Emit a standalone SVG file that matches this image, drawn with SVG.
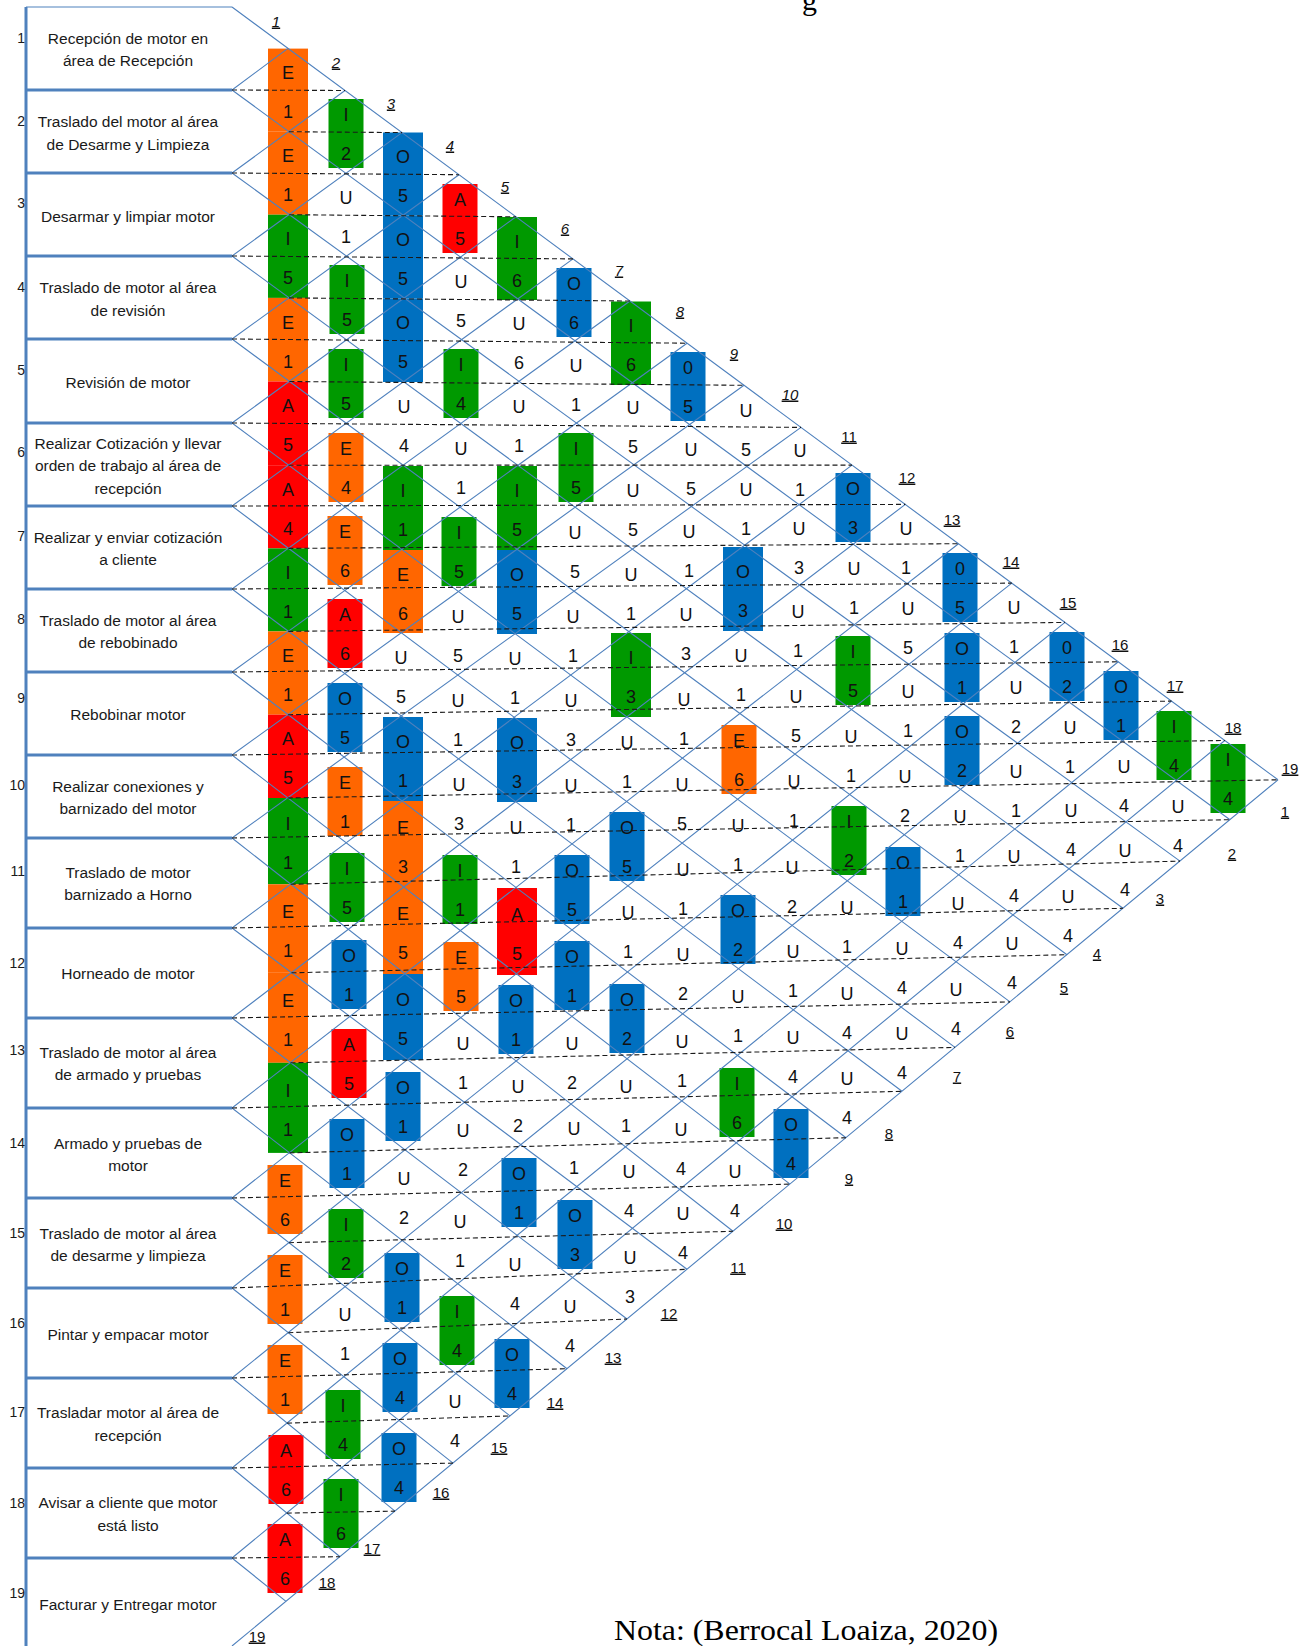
<svg xmlns="http://www.w3.org/2000/svg" width="1304" height="1646" viewBox="0 0 1304 1646">
<style>
.bg{fill:#ffffff}
.sep{stroke:#4F81BD;stroke-width:3;fill:none}
.thin{stroke:#4F81BD;stroke-width:1.2;fill:none}
.grid{stroke:#4F81BD;stroke-width:1.1;fill:none}
.dash{stroke:#1a1a1a;stroke-width:1.1;stroke-dasharray:5 3;fill:none}
.lbl{font-family:"Liberation Sans",Arial,sans-serif;font-size:15.5px;fill:#1a1a1a;text-anchor:middle}
.rn{font-family:"Liberation Sans",Arial,sans-serif;font-size:14px;fill:#1a1a1a;text-anchor:end}
.c text{font-family:"Liberation Sans",Arial,sans-serif;font-size:18px;fill:#111;text-anchor:middle}
.idx{font-family:"Liberation Sans",Arial,sans-serif;font-size:15px;fill:#111;text-anchor:middle;text-decoration:underline}
.it{font-style:italic}
.E{fill:#FF6600}.I{fill:#009900}.O{fill:#0070C0}.A{fill:#FF0000}
.nota{font-family:"Liberation Serif","Times New Roman",serif;font-size:30px;fill:#000}
</style>
<rect class="bg" x="0" y="0" width="1304" height="1646"/>

<!-- remnant of the title line at the top edge -->
<text class="nota" x="802" y="10" font-size="22">g</text>

<!-- activity column frame -->
<g id="frame">
<path class="sep" d="M26,7V1646"/>
<path class="thin" d="M26,7H232"/>
<path class="sep" d="M26,90H232M26,173H232M26,256H232M26,339H232M26,423H232M26,506H232M26,589H232M26,672H232M26,755H232M26,838H232M26,928H232M26,1018H232M26,1108H232M26,1198H232M26,1288H232M26,1378H232M26,1468H232M26,1558H232"/>
</g>

<!-- activities -->
<g id="act-1"><text class="rn" x="25" y="43">1</text><text class="lbl" x="128" y="43.5">Recepción de motor en</text><text class="lbl" x="128" y="65.5">área de Recepción</text></g>
<g id="act-2"><text class="rn" x="25" y="126">2</text><text class="lbl" x="128" y="126.5">Traslado del motor al área</text><text class="lbl" x="128" y="149.5">de Desarme y Limpieza</text></g>
<g id="act-3"><text class="rn" x="25" y="208">3</text><text class="lbl" x="128" y="221.5">Desarmar y limpiar motor</text></g>
<g id="act-4"><text class="rn" x="25" y="292">4</text><text class="lbl" x="128" y="292.5">Traslado de motor al área</text><text class="lbl" x="128" y="315.5">de revisión</text></g>
<g id="act-5"><text class="rn" x="25" y="375">5</text><text class="lbl" x="128" y="387.5">Revisión de motor</text></g>
<g id="act-6"><text class="rn" x="25" y="457">6</text><text class="lbl" x="128" y="448.5">Realizar Cotización y llevar</text><text class="lbl" x="128" y="470.5">orden de trabajo al área de</text><text class="lbl" x="128" y="493.5">recepción</text></g>
<g id="act-7"><text class="rn" x="25" y="541">7</text><text class="lbl" x="128" y="542.5">Realizar y enviar cotización</text><text class="lbl" x="128" y="564.5">a cliente</text></g>
<g id="act-8"><text class="rn" x="25" y="624">8</text><text class="lbl" x="128" y="625.5">Traslado de motor al área</text><text class="lbl" x="128" y="647.5">de rebobinado</text></g>
<g id="act-9"><text class="rn" x="25" y="703">9</text><text class="lbl" x="128" y="719.5">Rebobinar motor</text></g>
<g id="act-10"><text class="rn" x="25" y="790">10</text><text class="lbl" x="128" y="791.5">Realizar conexiones y</text><text class="lbl" x="128" y="813.5">barnizado del motor</text></g>
<g id="act-11"><text class="rn" x="25" y="876">11</text><text class="lbl" x="128" y="877.5">Traslado de motor</text><text class="lbl" x="128" y="899.5">barnizado a Horno</text></g>
<g id="act-12"><text class="rn" x="25" y="968">12</text><text class="lbl" x="128" y="978.5">Horneado de motor</text></g>
<g id="act-13"><text class="rn" x="25" y="1055">13</text><text class="lbl" x="128" y="1057.5">Traslado de motor al área</text><text class="lbl" x="128" y="1079.5">de armado y pruebas</text></g>
<g id="act-14"><text class="rn" x="25" y="1148">14</text><text class="lbl" x="128" y="1148.5">Armado y pruebas de</text><text class="lbl" x="128" y="1170.5">motor</text></g>
<g id="act-15"><text class="rn" x="25" y="1238">15</text><text class="lbl" x="128" y="1238.5">Traslado de motor al área</text><text class="lbl" x="128" y="1260.5">de desarme y limpieza</text></g>
<g id="act-16"><text class="rn" x="25" y="1328">16</text><text class="lbl" x="128" y="1339.5">Pintar y empacar motor</text></g>
<g id="act-17"><text class="rn" x="25" y="1417">17</text><text class="lbl" x="128" y="1417.5">Trasladar motor al área de</text><text class="lbl" x="128" y="1440.5">recepción</text></g>
<g id="act-18"><text class="rn" x="25" y="1508">18</text><text class="lbl" x="128" y="1507.5">Avisar a cliente que motor</text><text class="lbl" x="128" y="1530.5">está listo</text></g>
<g id="act-19"><text class="rn" x="25" y="1598">19</text><text class="lbl" x="128" y="1609.5">Facturar y Entregar motor</text></g>

<!-- relationship cells: letter above, reason code below -->
<g id="cells" class="c">
<g id="r1-2"><rect class="E" x="268" y="48.6" width="40" height="83.1"/><text x="288" y="79">E</text><text x="288" y="118">1</text></g>
<g id="r2-3"><rect class="E" x="268" y="131.7" width="40" height="83"/><text x="288" y="162">E</text><text x="288" y="201">1</text></g>
<g id="r3-4"><rect class="I" x="268" y="214.7" width="40" height="83.2"/><text x="288" y="245">I</text><text x="288" y="284">5</text></g>
<g id="r4-5"><rect class="E" x="268" y="297.9" width="40" height="83.6"/><text x="288" y="329">E</text><text x="288" y="368">1</text></g>
<g id="r5-6"><rect class="A" x="268" y="381.5" width="40" height="83.7"/><text x="288" y="412">A</text><text x="288" y="451">5</text></g>
<g id="r6-7"><rect class="A" x="268" y="465.2" width="40" height="83.2"/><text x="288" y="496">A</text><text x="288" y="535">4</text></g>
<g id="r7-8"><rect class="I" x="268" y="548.4" width="40" height="83"/><text x="288" y="579">I</text><text x="288" y="618">1</text></g>
<g id="r8-9"><rect class="E" x="268" y="631.4" width="40" height="83.3"/><text x="288" y="662">E</text><text x="288" y="701">1</text></g>
<g id="r9-10"><rect class="A" x="268" y="714.7" width="40" height="83.3"/><text x="288" y="745">A</text><text x="288" y="784">5</text></g>
<g id="r10-11"><rect class="I" x="268" y="798" width="40" height="86.3"/><text x="288" y="830">I</text><text x="288" y="869">1</text></g>
<g id="r11-12"><rect class="E" x="268" y="884.3" width="40" height="88.5"/><text x="288" y="918">E</text><text x="288" y="957">1</text></g>
<g id="r12-13"><rect class="E" x="268" y="972.8" width="40" height="90"/><text x="288" y="1007">E</text><text x="288" y="1046">1</text></g>
<g id="r13-14"><rect class="I" x="268" y="1062.8" width="40" height="90.1"/><text x="288" y="1097">I</text><text x="288" y="1136">1</text></g>
<g id="r14-15"><rect class="E" x="267.5" y="1165" width="35" height="69"/><text x="285" y="1187">E</text><text x="285" y="1226">6</text></g>
<g id="r15-16"><rect class="E" x="267.5" y="1255" width="35" height="69"/><text x="285" y="1277">E</text><text x="285" y="1316">1</text></g>
<g id="r16-17"><rect class="E" x="267.5" y="1345" width="35" height="69"/><text x="285" y="1367">E</text><text x="285" y="1406">1</text></g>
<g id="r17-18"><rect class="A" x="268.5" y="1435" width="35" height="69"/><text x="286" y="1457">A</text><text x="286" y="1496">6</text></g>
<g id="r18-19"><rect class="A" x="267.5" y="1524" width="35" height="69"/><text x="285" y="1546">A</text><text x="285" y="1585">6</text></g>

<g id="r1-3"><rect class="I" x="328.5" y="99" width="35" height="69"/><text x="346" y="121">I</text><text x="346" y="160">2</text></g>
<g id="r2-4"><text x="346" y="204">U</text><text x="346" y="243">1</text></g>
<g id="r3-5"><rect class="I" x="329.5" y="265" width="35" height="69"/><text x="347" y="287">I</text><text x="347" y="326">5</text></g>
<g id="r4-6"><rect class="I" x="328.5" y="349" width="35" height="69"/><text x="346" y="371">I</text><text x="346" y="410">5</text></g>
<g id="r5-7"><rect class="E" x="328.5" y="433" width="35" height="69"/><text x="346" y="455">E</text><text x="346" y="494">4</text></g>
<g id="r6-8"><rect class="E" x="327.5" y="516" width="35" height="69"/><text x="345" y="538">E</text><text x="345" y="577">6</text></g>
<g id="r7-9"><rect class="A" x="327.5" y="599" width="35" height="69"/><text x="345" y="621">A</text><text x="345" y="660">6</text></g>
<g id="r8-10"><rect class="O" x="327.5" y="683" width="35" height="69"/><text x="345" y="705">O</text><text x="345" y="744">5</text></g>
<g id="r9-11"><rect class="E" x="327.5" y="767" width="35" height="69"/><text x="345" y="789">E</text><text x="345" y="828">1</text></g>
<g id="r10-12"><rect class="I" x="329.5" y="853" width="35" height="69"/><text x="347" y="875">I</text><text x="347" y="914">5</text></g>
<g id="r11-13"><rect class="O" x="331.5" y="940" width="35" height="69"/><text x="349" y="962">O</text><text x="349" y="1001">1</text></g>
<g id="r12-14"><rect class="A" x="331.5" y="1029" width="35" height="69"/><text x="349" y="1051">A</text><text x="349" y="1090">5</text></g>
<g id="r13-15"><rect class="O" x="329.5" y="1119" width="35" height="69"/><text x="347" y="1141">O</text><text x="347" y="1180">1</text></g>
<g id="r14-16"><rect class="I" x="328.5" y="1209" width="35" height="69"/><text x="346" y="1231">I</text><text x="346" y="1270">2</text></g>
<g id="r15-17"><text x="345" y="1321">U</text><text x="345" y="1360">1</text></g>
<g id="r16-18"><rect class="I" x="325.5" y="1390" width="35" height="69"/><text x="343" y="1412">I</text><text x="343" y="1451">4</text></g>
<g id="r17-19"><rect class="I" x="323.5" y="1479" width="35" height="69"/><text x="341" y="1501">I</text><text x="341" y="1540">6</text></g>

<g id="r1-4"><rect class="O" x="383" y="132.5" width="40" height="83"/><text x="403" y="163">O</text><text x="403" y="202">5</text></g>
<g id="r2-5"><rect class="O" x="383" y="215.5" width="40" height="83"/><text x="403" y="246">O</text><text x="403" y="285">5</text></g>
<g id="r3-6"><rect class="O" x="383" y="298.5" width="40" height="83.5"/><text x="403" y="329">O</text><text x="403" y="368">5</text></g>
<g id="r4-7"><text x="404" y="413">U</text><text x="404" y="452">4</text></g>
<g id="r5-8"><rect class="I" x="383" y="466" width="40" height="84"/><text x="403" y="497">I</text><text x="403" y="536">1</text></g>
<g id="r6-9"><rect class="E" x="383" y="550" width="40" height="83"/><text x="403" y="581">E</text><text x="403" y="620">6</text></g>
<g id="r7-10"><text x="401" y="664">U</text><text x="401" y="703">5</text></g>
<g id="r8-11"><rect class="O" x="383" y="717" width="40" height="84"/><text x="403" y="748">O</text><text x="403" y="787">1</text></g>
<g id="r9-12"><rect class="E" x="383" y="801" width="40" height="87"/><text x="403" y="834">E</text><text x="403" y="873">3</text></g>
<g id="r10-13"><rect class="E" x="383" y="888" width="40" height="86"/><text x="403" y="920">E</text><text x="403" y="959">5</text></g>
<g id="r11-14"><rect class="O" x="383" y="974" width="40" height="86"/><text x="403" y="1006">O</text><text x="403" y="1045">5</text></g>
<g id="r12-15"><rect class="O" x="385.5" y="1072" width="35" height="69"/><text x="403" y="1094">O</text><text x="403" y="1133">1</text></g>
<g id="r13-16"><text x="404" y="1185">U</text><text x="404" y="1224">2</text></g>
<g id="r14-17"><rect class="O" x="384.5" y="1253" width="35" height="69"/><text x="402" y="1275">O</text><text x="402" y="1314">1</text></g>
<g id="r15-18"><rect class="O" x="382.5" y="1343" width="35" height="69"/><text x="400" y="1365">O</text><text x="400" y="1404">4</text></g>
<g id="r16-19"><rect class="O" x="381.5" y="1433" width="35" height="69"/><text x="399" y="1455">O</text><text x="399" y="1494">4</text></g>

<g id="r1-5"><rect class="A" x="442.5" y="184" width="35" height="69"/><text x="460" y="206">A</text><text x="460" y="245">5</text></g>
<g id="r2-6"><text x="461" y="288">U</text><text x="461" y="327">5</text></g>
<g id="r3-7"><rect class="I" x="443.5" y="349" width="35" height="69"/><text x="461" y="371">I</text><text x="461" y="410">4</text></g>
<g id="r4-8"><text x="461" y="455">U</text><text x="461" y="494">1</text></g>
<g id="r5-9"><rect class="I" x="441.5" y="517" width="35" height="69"/><text x="459" y="539">I</text><text x="459" y="578">5</text></g>
<g id="r6-10"><text x="458" y="623">U</text><text x="458" y="662">5</text></g>
<g id="r7-11"><text x="458" y="707">U</text><text x="458" y="746">1</text></g>
<g id="r8-12"><text x="459" y="791">U</text><text x="459" y="830">3</text></g>
<g id="r9-13"><rect class="I" x="442.5" y="855" width="35" height="69"/><text x="460" y="877">I</text><text x="460" y="916">1</text></g>
<g id="r10-14"><rect class="E" x="443.5" y="942" width="35" height="69"/><text x="461" y="964">E</text><text x="461" y="1003">5</text></g>
<g id="r11-15"><text x="463" y="1050">U</text><text x="463" y="1089">1</text></g>
<g id="r12-16"><text x="463" y="1137">U</text><text x="463" y="1176">2</text></g>
<g id="r13-17"><text x="460" y="1228">U</text><text x="460" y="1267">1</text></g>
<g id="r14-18"><rect class="I" x="439.5" y="1296" width="35" height="69"/><text x="457" y="1318">I</text><text x="457" y="1357">4</text></g>
<g id="r15-19"><text x="455" y="1408">U</text><text x="455" y="1447">4</text></g>

<g id="r1-6"><rect class="I" x="497" y="217" width="40" height="83"/><text x="517" y="248">I</text><text x="517" y="287">6</text></g>
<g id="r2-7"><text x="519" y="330">U</text><text x="519" y="369">6</text></g>
<g id="r3-8"><text x="519" y="413">U</text><text x="519" y="452">1</text></g>
<g id="r4-9"><rect class="I" x="497" y="466" width="40" height="84"/><text x="517" y="497">I</text><text x="517" y="536">5</text></g>
<g id="r5-10"><rect class="O" x="497" y="550" width="40" height="84"/><text x="517" y="581">O</text><text x="517" y="620">5</text></g>
<g id="r6-11"><text x="515" y="665">U</text><text x="515" y="704">1</text></g>
<g id="r7-12"><rect class="O" x="497" y="718" width="40" height="84"/><text x="517" y="749">O</text><text x="517" y="788">3</text></g>
<g id="r8-13"><text x="516" y="834">U</text><text x="516" y="873">1</text></g>
<g id="r9-14"><rect class="A" x="497" y="888" width="40" height="87"/><text x="517" y="921">A</text><text x="517" y="960">5</text></g>
<g id="r10-15"><rect class="O" x="498.5" y="985" width="35" height="69"/><text x="516" y="1007">O</text><text x="516" y="1046">1</text></g>
<g id="r11-16"><text x="518" y="1093">U</text><text x="518" y="1132">2</text></g>
<g id="r12-17"><rect class="O" x="501.5" y="1158" width="35" height="69"/><text x="519" y="1180">O</text><text x="519" y="1219">1</text></g>
<g id="r13-18"><text x="515" y="1271">U</text><text x="515" y="1310">4</text></g>
<g id="r14-19"><rect class="O" x="494.5" y="1339" width="35" height="69"/><text x="512" y="1361">O</text><text x="512" y="1400">4</text></g>

<g id="r1-7"><rect class="O" x="556.5" y="268" width="35" height="69"/><text x="574" y="290">O</text><text x="574" y="329">6</text></g>
<g id="r2-8"><text x="576" y="372">U</text><text x="576" y="411">1</text></g>
<g id="r3-9"><rect class="I" x="558.5" y="433" width="35" height="69"/><text x="576" y="455">I</text><text x="576" y="494">5</text></g>
<g id="r4-10"><text x="575" y="539">U</text><text x="575" y="578">5</text></g>
<g id="r5-11"><text x="573" y="623">U</text><text x="573" y="662">1</text></g>
<g id="r6-12"><text x="571" y="707">U</text><text x="571" y="746">3</text></g>
<g id="r7-13"><text x="571" y="792">U</text><text x="571" y="831">1</text></g>
<g id="r8-14"><rect class="O" x="554.5" y="855" width="35" height="69"/><text x="572" y="877">O</text><text x="572" y="916">5</text></g>
<g id="r9-15"><rect class="O" x="554.5" y="941" width="35" height="69"/><text x="572" y="963">O</text><text x="572" y="1002">1</text></g>
<g id="r10-16"><text x="572" y="1050">U</text><text x="572" y="1089">2</text></g>
<g id="r11-17"><text x="574" y="1135">U</text><text x="574" y="1174">1</text></g>
<g id="r12-18"><rect class="O" x="557.5" y="1200" width="35" height="69"/><text x="575" y="1222">O</text><text x="575" y="1261">3</text></g>
<g id="r13-19"><text x="570" y="1313">U</text><text x="570" y="1352">4</text></g>

<g id="r1-8"><rect class="I" x="611" y="301.5" width="40" height="83.5"/><text x="631" y="332">I</text><text x="631" y="371">6</text></g>
<g id="r2-9"><text x="633" y="414">U</text><text x="633" y="453">5</text></g>
<g id="r3-10"><text x="633" y="497">U</text><text x="633" y="536">5</text></g>
<g id="r4-11"><text x="631" y="581">U</text><text x="631" y="620">1</text></g>
<g id="r5-12"><rect class="I" x="611" y="633" width="40" height="84"/><text x="631" y="664">I</text><text x="631" y="703">3</text></g>
<g id="r6-13"><text x="627" y="749">U</text><text x="627" y="788">1</text></g>
<g id="r7-14"><rect class="O" x="609.5" y="812" width="35" height="69"/><text x="627" y="834">O</text><text x="627" y="873">5</text></g>
<g id="r8-15"><text x="628" y="919">U</text><text x="628" y="958">1</text></g>
<g id="r9-16"><rect class="O" x="609.5" y="984" width="35" height="69"/><text x="627" y="1006">O</text><text x="627" y="1045">2</text></g>
<g id="r10-17"><text x="626" y="1093">U</text><text x="626" y="1132">1</text></g>
<g id="r11-18"><text x="629" y="1178">U</text><text x="629" y="1217">4</text></g>
<g id="r12-19"><text x="630" y="1264">U</text><text x="630" y="1303">3</text></g>

<g id="r1-9"><rect class="O" x="670.5" y="352" width="35" height="69"/><text x="688" y="374">0</text><text x="688" y="413">5</text></g>
<g id="r2-10"><text x="691" y="456">U</text><text x="691" y="495">5</text></g>
<g id="r3-11"><text x="689" y="538">U</text><text x="689" y="577">1</text></g>
<g id="r4-12"><text x="686" y="621">U</text><text x="686" y="660">3</text></g>
<g id="r5-13"><text x="684" y="706">U</text><text x="684" y="745">1</text></g>
<g id="r6-14"><text x="682" y="791">U</text><text x="682" y="830">5</text></g>
<g id="r7-15"><text x="683" y="876">U</text><text x="683" y="915">1</text></g>
<g id="r8-16"><text x="683" y="961">U</text><text x="683" y="1000">2</text></g>
<g id="r9-17"><text x="682" y="1048">U</text><text x="682" y="1087">1</text></g>
<g id="r10-18"><text x="681" y="1136">U</text><text x="681" y="1175">4</text></g>
<g id="r11-19"><text x="683" y="1220">U</text><text x="683" y="1259">4</text></g>

<g id="r1-10"><text x="746" y="417">U</text><text x="746" y="456">5</text></g>
<g id="r2-11"><text x="746" y="496">U</text><text x="746" y="535">1</text></g>
<g id="r3-12"><rect class="O" x="723" y="547" width="40" height="84"/><text x="743" y="578">O</text><text x="743" y="617">3</text></g>
<g id="r4-13"><text x="741" y="662">U</text><text x="741" y="701">1</text></g>
<g id="r5-14"><rect class="E" x="721.5" y="725" width="35" height="69"/><text x="739" y="747">E</text><text x="739" y="786">6</text></g>
<g id="r6-15"><text x="738" y="832">U</text><text x="738" y="871">1</text></g>
<g id="r7-16"><rect class="O" x="720.5" y="895" width="35" height="69"/><text x="738" y="917">O</text><text x="738" y="956">2</text></g>
<g id="r8-17"><text x="738" y="1003">U</text><text x="738" y="1042">1</text></g>
<g id="r9-18"><rect class="I" x="719.5" y="1068" width="35" height="69"/><text x="737" y="1090">I</text><text x="737" y="1129">6</text></g>
<g id="r10-19"><text x="735" y="1178">U</text><text x="735" y="1217">4</text></g>

<g id="r1-11"><text x="800" y="457">U</text><text x="800" y="496">1</text></g>
<g id="r2-12"><text x="799" y="535">U</text><text x="799" y="574">3</text></g>
<g id="r3-13"><text x="798" y="618">U</text><text x="798" y="657">1</text></g>
<g id="r4-14"><text x="796" y="703">U</text><text x="796" y="742">5</text></g>
<g id="r5-15"><text x="794" y="788">U</text><text x="794" y="827">1</text></g>
<g id="r6-16"><text x="792" y="874">U</text><text x="792" y="913">2</text></g>
<g id="r7-17"><text x="793" y="958">U</text><text x="793" y="997">1</text></g>
<g id="r8-18"><text x="793" y="1044">U</text><text x="793" y="1083">4</text></g>
<g id="r9-19"><rect class="O" x="773.5" y="1109" width="35" height="69"/><text x="791" y="1131">O</text><text x="791" y="1170">4</text></g>

<g id="r1-12"><rect class="O" x="835.5" y="473" width="35" height="69"/><text x="853" y="495">O</text><text x="853" y="534">3</text></g>
<g id="r2-13"><text x="854" y="575">U</text><text x="854" y="614">1</text></g>
<g id="r3-14"><rect class="I" x="835.5" y="636" width="35" height="69"/><text x="853" y="658">I</text><text x="853" y="697">5</text></g>
<g id="r4-15"><text x="851" y="743">U</text><text x="851" y="782">1</text></g>
<g id="r5-16"><rect class="I" x="831.5" y="806" width="35" height="69"/><text x="849" y="828">I</text><text x="849" y="867">2</text></g>
<g id="r6-17"><text x="847" y="914">U</text><text x="847" y="953">1</text></g>
<g id="r7-18"><text x="847" y="1000">U</text><text x="847" y="1039">4</text></g>
<g id="r8-19"><text x="847" y="1085">U</text><text x="847" y="1124">4</text></g>

<g id="r1-13"><text x="906" y="535">U</text><text x="906" y="574">1</text></g>
<g id="r2-14"><text x="908" y="615">U</text><text x="908" y="654">5</text></g>
<g id="r3-15"><text x="908" y="698">U</text><text x="908" y="737">1</text></g>
<g id="r4-16"><text x="905" y="783">U</text><text x="905" y="822">2</text></g>
<g id="r5-17"><rect class="O" x="885.5" y="847" width="35" height="69"/><text x="903" y="869">O</text><text x="903" y="908">1</text></g>
<g id="r6-18"><text x="902" y="955">U</text><text x="902" y="994">4</text></g>
<g id="r7-19"><text x="902" y="1040">U</text><text x="902" y="1079">4</text></g>

<g id="r1-14"><rect class="O" x="942.5" y="553" width="35" height="69"/><text x="960" y="575">0</text><text x="960" y="614">5</text></g>
<g id="r2-15"><rect class="O" x="944.5" y="633" width="35" height="69"/><text x="962" y="655">O</text><text x="962" y="694">1</text></g>
<g id="r3-16"><rect class="O" x="944.5" y="716" width="35" height="69"/><text x="962" y="738">O</text><text x="962" y="777">2</text></g>
<g id="r4-17"><text x="960" y="823">U</text><text x="960" y="862">1</text></g>
<g id="r5-18"><text x="958" y="910">U</text><text x="958" y="949">4</text></g>
<g id="r6-19"><text x="956" y="996">U</text><text x="956" y="1035">4</text></g>

<g id="r1-15"><text x="1014" y="614">U</text><text x="1014" y="653">1</text></g>
<g id="r2-16"><text x="1016" y="694">U</text><text x="1016" y="733">2</text></g>
<g id="r3-17"><text x="1016" y="778">U</text><text x="1016" y="817">1</text></g>
<g id="r4-18"><text x="1014" y="863">U</text><text x="1014" y="902">4</text></g>
<g id="r5-19"><text x="1012" y="950">U</text><text x="1012" y="989">4</text></g>

<g id="r1-16"><rect class="O" x="1049.5" y="632" width="35" height="69"/><text x="1067" y="654">0</text><text x="1067" y="693">2</text></g>
<g id="r2-17"><text x="1070" y="734">U</text><text x="1070" y="773">1</text></g>
<g id="r3-18"><text x="1071" y="817">U</text><text x="1071" y="856">4</text></g>
<g id="r4-19"><text x="1068" y="903">U</text><text x="1068" y="942">4</text></g>

<g id="r1-17"><rect class="O" x="1103.5" y="671" width="35" height="69"/><text x="1121" y="693">O</text><text x="1121" y="732">1</text></g>
<g id="r2-18"><text x="1124" y="773">U</text><text x="1124" y="812">4</text></g>
<g id="r3-19"><text x="1125" y="857">U</text><text x="1125" y="896">4</text></g>

<g id="r1-18"><rect class="I" x="1156.5" y="711" width="35" height="69"/><text x="1174" y="733">I</text><text x="1174" y="772">4</text></g>
<g id="r2-19"><text x="1178" y="813">U</text><text x="1178" y="852">4</text></g>

<g id="r1-19"><rect class="I" x="1210.5" y="744" width="35" height="69"/><text x="1228" y="766">I</text><text x="1228" y="805">4</text></g>
</g>

<!-- connectors: diamond grid and the dashed centre lines -->
<g id="connectors">
<path class="grid" d="M232,90L288,48.4M232,173L345,90.5M232,256L402,132.6M232,339L459,174.7M232,423L516,216.8M232,506L573,258.9M232,589L630,301M232,672L687,343.2M232,755L744,385.3M232,838L801,427.4M232,928L852,465.1M232,1018L905.3,504.4M232,1108L958.5,543.7M232,1198L1011.8,583.1M232,1288L1065,622.4M232,1378L1118.3,661.8M232,1468L1171.5,701.1M232,1558L1224.8,740.5M232,1646L1278,779.8"/>
<path class="grid" d="M232,7L1278,779.8M232,90L1230,819.7M232,173L1180,861.1M232,256L1123,908.3M232,339L1067,954.7M232,423L1010,1001.9M232,506L955,1047.4M232,589L902,1091.3M232,672L846,1137.7M232,755L790,1184.1M232,838L733,1231.3M232,928L687,1269.3M232,1018L627,1319M232,1108L567,1368.7M232,1198L510,1415.9M232,1288L453,1463.1M232,1378L395,1511.1M232,1468L340,1556.7M232,1558L286,1601.4"/>
<path class="dash" d="M232,90L345,90.5M288.8,131.7L402,132.6M232,173L459,174.7M289.2,214.7L516,216.8M232,256L573,258.9M289,297.9L630,301M232,339L687,343.2M289.4,381.5L744,385.3M232,423L801,427.4M288.5,465.2L852,465.1M232,506L905.3,504.4M288.4,548.4L958.5,543.7M232,589L1011.8,583.1M288.3,631.4L1065,622.4M232,672L1118.3,661.8M288.1,714.7L1171.5,701.1M232,755L1224.8,740.5M287.7,798L1278,779.8M232,838L1230,819.7M290.7,884.3L1180,861.1M232,928L1123,908.3M291.5,972.8L1067,954.7M232,1018L1010,1001.9M290.5,1062.8L955,1047.4M232,1108L902,1091.3M289.5,1152.9L846,1137.7M232,1198L790,1184.1M288.9,1242.7L733,1231.3M232,1288L687,1269.3M288.3,1332.7L627,1319M232,1378L567,1368.7M287.1,1423.1L510,1415.9M232,1468L453,1463.1M286.8,1513.1L395,1511.1M232,1558L340,1556.7"/>
</g>

<!-- activity indices along the two outer edges -->
<g id="index-top">
<text class="idx it" x="276" y="26.5">1</text><text class="idx it" x="336" y="67.5">2</text><text class="idx it" x="391" y="108.5">3</text><text class="idx it" x="450" y="150.5">4</text><text class="idx it" x="505" y="191.5">5</text><text class="idx it" x="565" y="233.5">6</text><text class="idx it" x="619" y="275.5">7</text><text class="idx it" x="680" y="316.5">8</text><text class="idx it" x="734" y="358.5">9</text><text class="idx it" x="790" y="399.5">10</text>
<text class="idx" x="849" y="441.5">11</text><text class="idx" x="907" y="482.5">12</text><text class="idx" x="952" y="524.5">13</text><text class="idx" x="1011" y="566.5">14</text><text class="idx" x="1068" y="607.5">15</text><text class="idx" x="1120" y="649.5">16</text><text class="idx" x="1175" y="690.5">17</text><text class="idx" x="1233" y="732.5">18</text><text class="idx" x="1290" y="773.5">19</text>
</g>
<g id="index-bottom">
<text class="idx" x="1285" y="816.5">1</text><text class="idx" x="1232" y="858.5">2</text><text class="idx" x="1160" y="903.5">3</text><text class="idx" x="1097" y="958.5">4</text><text class="idx" x="1064" y="992.5">5</text><text class="idx" x="1010" y="1036.5">6</text><text class="idx" x="957" y="1081.5">7</text><text class="idx" x="889" y="1138.5">8</text><text class="idx" x="849" y="1183.5">9</text><text class="idx" x="784" y="1228.5">10</text>
<text class="idx" x="738" y="1272.5">11</text><text class="idx" x="669" y="1318.5">12</text><text class="idx" x="613" y="1362.5">13</text><text class="idx" x="555" y="1407.5">14</text><text class="idx" x="499" y="1452.5">15</text><text class="idx" x="441" y="1497.5">16</text><text class="idx" x="372" y="1553.5">17</text><text class="idx" x="327" y="1587.5">18</text><text class="idx" x="257" y="1641.5">19</text>
</g>

<text class="nota" x="614" y="1640" textLength="384" lengthAdjust="spacingAndGlyphs">Nota: (Berrocal Loaiza, 2020)</text>
</svg>
